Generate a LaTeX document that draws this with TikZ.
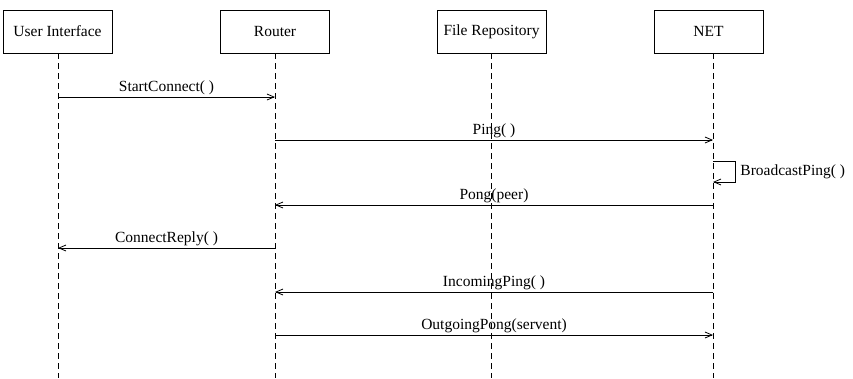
\documentclass[tikz,border=0pt]{standalone}
\usepackage{fontspec}
\setmainfont{Liberation Serif}
\usetikzlibrary{arrows.meta, positioning}

\begin{document}
\begin{tikzpicture}[x=1pt, y=-1pt, font=\fontsize{15.5}{18}\selectfont,
    actor/.style={draw, line width=0.8pt, minimum width=109pt, minimum height=43pt, inner sep=0pt},
    life/.style={line width=0.8pt, dash pattern=on 6pt off 4pt},
    msg/.style={line width=0.8pt, -{Straight Barb[length=7pt, width=6pt, line width=0.8pt]}},
    lbl/.style={above, inner sep=2pt}]
  \useasboundingbox (0,0) rectangle (853,378);
  % participants
  \node[actor] (ui)     at (57.5,31.5)  {User Interface};
  \node[actor] (router) at (275,31.5)   {Router};
  \node[actor] (repo)   at (491.5,31.5) {File Repository};
  \node[actor] (net)    at (708.5,31.5) {NET};
  % lifelines
  \foreach \n/\x in {ui/58, router/275, repo/491.5, net/713} {
    \coordinate (\n-top) at (\x,53);
    \coordinate (\n-end) at (\x,378);
    \draw[life] (\n-top) -- (\n-end);
  }
  % messages
  \draw[msg] (ui-top |- 0,97) -- node[lbl] {StartConnect( )} (router-top |- 0,97);
  \draw[msg] (router-top |- 0,140) -- node[lbl] {Ping( )} (net-top |- 0,140);
  \coordinate (self) at (735,161);
  \draw[msg] (net-top |- 0,161) -- (self) -- node[right, inner sep=5pt] {BroadcastPing( )}
    (self |- 0,182) -- (net-top |- 0,182);
  \draw[msg] (net-top |- 0,205) -- node[lbl] {Pong(peer)} (router-top |- 0,205);
  \draw[msg] (router-top |- 0,248) -- node[lbl] {ConnectReply( )} (ui-top |- 0,248);
  \draw[msg] (net-top |- 0,292) -- node[lbl] {IncomingPing( )} (router-top |- 0,292);
  \draw[msg] (router-top |- 0,335) -- node[lbl] {OutgoingPong(servent)} (net-top |- 0,335);
\end{tikzpicture}
\end{document}
